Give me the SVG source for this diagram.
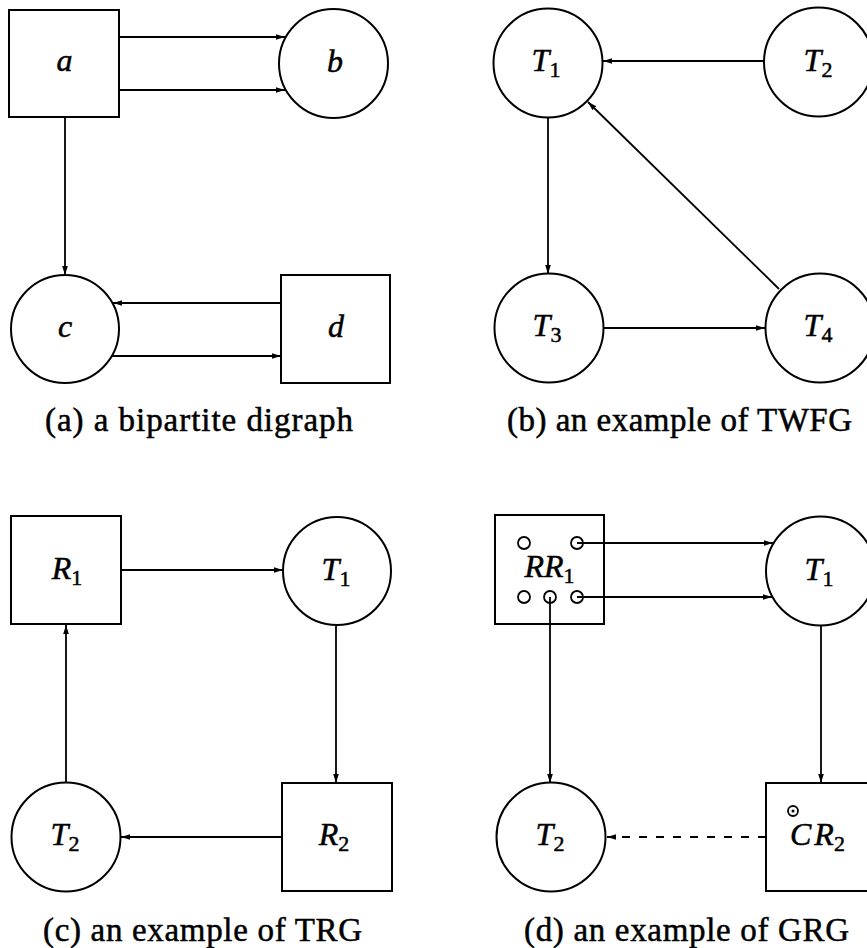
<svg xmlns="http://www.w3.org/2000/svg" width="867" height="948" viewBox="0 0 867 948">
<style>
.shape{fill:none;stroke:#000;stroke-width:2}
.port{fill:#fff;stroke:#000;stroke-width:1.8}
.edge{fill:none;stroke:#000;stroke-width:1.8;marker-end:url(#ah)}
.dash{stroke-dasharray:8 9}
.lbl{font-family:"Liberation Serif","Times New Roman",serif;font-style:italic;font-size:32px;fill:#000;stroke:#000;stroke-width:0.5}
.sub{font-style:normal;font-size:22px}
.cap{font-family:"Liberation Serif","Times New Roman",serif;font-size:33px;fill:#000;stroke:#000;stroke-width:0.5}
</style>
<defs>
<marker id="ah" markerWidth="10" markerHeight="7" refX="9" refY="3.2" orient="auto" markerUnits="userSpaceOnUse">
<path d="M0,0.4 L9,3.2 L0,6 z" fill="#000"/>
</marker>
</defs>
<rect width="867" height="948" fill="#fff"/>

<!-- (a) -->
<g id="a-node"><rect class="shape" x="9" y="10" width="110" height="107"/><text class="lbl" x="64.5" y="71" text-anchor="middle">a</text></g>
<g id="b-node"><circle class="shape" cx="333.5" cy="63.5" r="54.5"/><text class="lbl" x="335" y="72" text-anchor="middle">b</text></g>
<g id="c-node"><circle class="shape" cx="65" cy="329" r="54"/><text class="lbl" x="65" y="337" text-anchor="middle">c</text></g>
<g id="d-node"><rect class="shape" x="281" y="275" width="109" height="108"/><text class="lbl" x="336" y="337" text-anchor="middle">d</text></g>

<!-- (b) -->
<g id="b-T1"><circle class="shape" cx="548" cy="63" r="54.5"/><text class="lbl" x="546" y="71" text-anchor="middle">T<tspan class="sub" dy="6">1</tspan></text></g>
<g id="b-T2"><circle class="shape" cx="818.5" cy="62" r="54.5"/><text class="lbl" x="818" y="71" text-anchor="middle">T<tspan class="sub" dy="6">2</tspan></text></g>
<g id="b-T3"><circle class="shape" cx="549" cy="328" r="54.5"/><text class="lbl" x="547" y="336" text-anchor="middle">T<tspan class="sub" dy="6">3</tspan></text></g>
<g id="b-T4"><circle class="shape" cx="820" cy="328" r="54.5"/><text class="lbl" x="818" y="336" text-anchor="middle">T<tspan class="sub" dy="6">4</tspan></text></g>

<!-- (c) -->
<g id="c-R1"><rect class="shape" x="11" y="516" width="110" height="108"/><text class="lbl" x="67" y="579" text-anchor="middle">R<tspan class="sub" dy="6">1</tspan></text></g>
<g id="c-T1"><circle class="shape" cx="337" cy="571" r="54"/><text class="lbl" x="336" y="580" text-anchor="middle">T<tspan class="sub" dy="6">1</tspan></text></g>
<g id="c-T2"><circle class="shape" cx="66" cy="837" r="54.5"/><text class="lbl" x="65" y="845" text-anchor="middle">T<tspan class="sub" dy="6">2</tspan></text></g>
<g id="c-R2"><rect class="shape" x="282" y="783" width="110" height="108"/><text class="lbl" x="334" y="845" text-anchor="middle">R<tspan class="sub" dy="6">2</tspan></text></g>

<!-- (d) -->
<g id="d-RR1">
<rect class="shape" x="495" y="515" width="109" height="109"/>
<text class="lbl" x="549.5" y="577" text-anchor="middle">RR<tspan class="sub" dy="6">1</tspan></text>
<circle class="port" cx="524" cy="543" r="6"/>
<circle class="port" cx="577" cy="543" r="6"/>
<circle class="port" cx="524" cy="597" r="6"/>
<circle class="port" cx="550" cy="597" r="6"/>
<circle class="port" cx="577" cy="597" r="6"/>
</g>
<g id="d-T1"><circle class="shape" cx="820.5" cy="571" r="54.5"/><text class="lbl" x="819" y="580" text-anchor="middle">T<tspan class="sub" dy="6">1</tspan></text></g>
<g id="d-T2"><circle class="shape" cx="551" cy="837" r="54.5"/><text class="lbl" x="550" y="845" text-anchor="middle">T<tspan class="sub" dy="6">2</tspan></text></g>
<g id="d-CR2">
<rect class="shape" x="766" y="783" width="110" height="108"/>
<circle class="port" cx="793" cy="811" r="5"/><circle cx="793" cy="811" r="1.5" fill="#000"/>
<text class="lbl" x="790" y="845">C<tspan dx="3">R</tspan><tspan class="sub" dy="6">2</tspan></text>
</g>

<g id="connectors">
<path class="edge" d="M119,37 H285"/>
<path class="edge" d="M119,90 H285"/>
<path class="edge" d="M65,117 V275"/>
<path class="edge" d="M281,303 H113"/>
<path class="edge" d="M112,356 H281"/>

<path class="edge" d="M764,61 H603"/>
<path class="edge" d="M548,117 V274"/>
<path class="edge" d="M603,328 H765"/>
<path class="edge" d="M779,289 L588,102"/>

<path class="edge" d="M121,570 H283"/>
<path class="edge" d="M336,625 V783"/>
<path class="edge" d="M66,783 V625"/>
<path class="edge" d="M282,837 H121"/>

<path class="edge" d="M577,543 H773"/>
<path class="edge" d="M577,597 H772"/>
<path class="edge" d="M550,597 V783"/>
<path class="edge" d="M821,625 V783"/>
<path class="edge dash" d="M766,837 H607"/>
</g>

<g id="captions">
<text class="cap" x="45" y="431" textLength="308" lengthAdjust="spacing">(a) a bipartite digraph</text>
<text class="cap" x="507" y="431" textLength="345" lengthAdjust="spacing">(b) an example of TWFG</text>
<text class="cap" x="43" y="941" textLength="319" lengthAdjust="spacing">(c) an example of TRG</text>
<text class="cap" x="524" y="941" textLength="325" lengthAdjust="spacing">(d) an example of GRG</text>
</g>
</svg>
